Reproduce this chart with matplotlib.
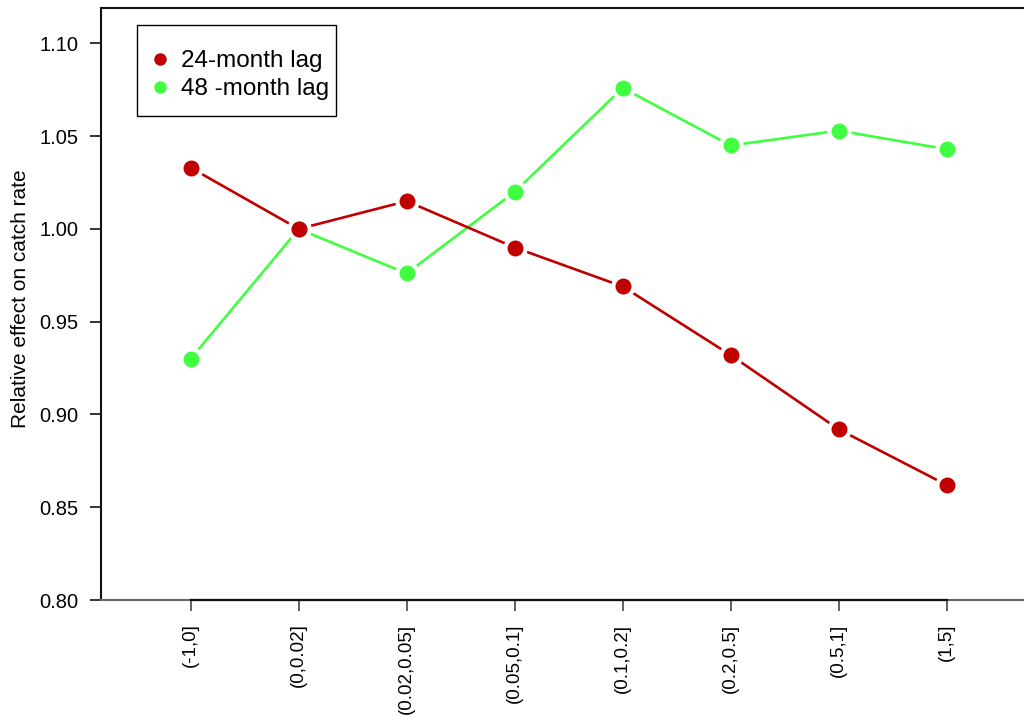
import matplotlib
matplotlib.use("Agg")
import matplotlib.pyplot as plt
from matplotlib.lines import Line2D
from matplotlib.patches import Rectangle

plt.rcParams['font.family'] = ['Liberation Sans', 'DejaVu Sans']

categories = ["(-1,0]", "(0,0.02]", "(0.02,0.05]", "(0.05,0.1]",
              "(0.1,0.2]", "(0.2,0.5]", "(0.5,1]", "(1,5]"]
lag24 = [1.033, 1.000, 1.015, 0.990, 0.969, 0.932, 0.892, 0.862]
lag48 = [0.930, 1.000, 0.976, 1.020, 1.076, 1.045, 1.053, 1.043]
series_names = ["24-month lag", "48 -month lag"]

red = "#C00000"
green = "#40FF40"
W, H = 1024, 717

fig = plt.figure(figsize=(W / 100, H / 100), dpi=100)
ax = fig.add_axes([101 / W, (H - 600) / H, (W - 101) / W, 592 / H])

x = list(range(1, len(categories) + 1))

# type="b" style: lines with a gap around each point
for ys, c in [(lag48, green), (lag24, red)]:
    ax.plot(x, ys, color=c, lw=1.9, zorder=2, solid_capstyle='butt')
for ys in [lag48, lag24]:
    ax.plot(x, ys, ls='none', marker='o', ms=17.5, mfc='white', mec='none', zorder=3)
for ys, c in [(lag48, green), (lag24, red)]:
    ax.plot(x, ys, ls='none', marker='o', ms=11.5, mfc=c, mec='none', zorder=4)

ax.set_xlim(0.1694, 8.716)
ax.set_ylim(0.80, 1.1191)
ax.set_yticks([0.80, 0.85, 0.90, 0.95, 1.00, 1.05, 1.10])
ax.set_yticklabels(["%.2f" % v for v in ax.get_yticks()])
ax.set_xticks(x)
ax.set_xticklabels(categories, rotation=90, va='top')

ax.tick_params(axis='y', length=8, width=1.3, pad=8.5, labelsize=14.5, color='#222222')
ax.tick_params(axis='x', length=8, width=1.3, pad=9, labelsize=13.5, color='#555555')

ax.spines['right'].set_visible(False)
for s in ['left', 'top']:
    ax.spines[s].set_linewidth(1.5)
    ax.spines[s].set_color('#111111')
ax.spines['bottom'].set_linewidth(1.5)
ax.spines['bottom'].set_color('#666666')
# axis line between the first and last tick
ax.plot([1, 8], [0.80, 0.80], color='#111111', lw=1.6, clip_on=False, zorder=5)

ax.set_ylabel("Relative effect on catch rate", fontsize=15)
ax.yaxis.set_label_coords(-71 / (W - 101), 0.509)

# legend: frameless entries inside a plain box
box = Rectangle((137 / W, 1 - 116 / H), 199 / W, 91 / H, transform=fig.transFigure,
                facecolor='white', edgecolor='black', lw=1.0, zorder=6, clip_on=False)
ax.add_patch(box)
handles = [Line2D([], [], ls='none', marker='o', ms=9, mfc=c, mec='none')
           for c in (red, green)]
leg = ax.legend(handles, series_names, loc='upper left',
                bbox_to_anchor=(154 / W, 1 - 50 / H), bbox_transform=fig.transFigure,
                fontsize=17.5, frameon=False, handlelength=0.5, handletextpad=0.62,
                borderpad=0, labelspacing=0.25, borderaxespad=0)
leg.set_zorder(7)

fig.savefig("out.png", dpi=100)
